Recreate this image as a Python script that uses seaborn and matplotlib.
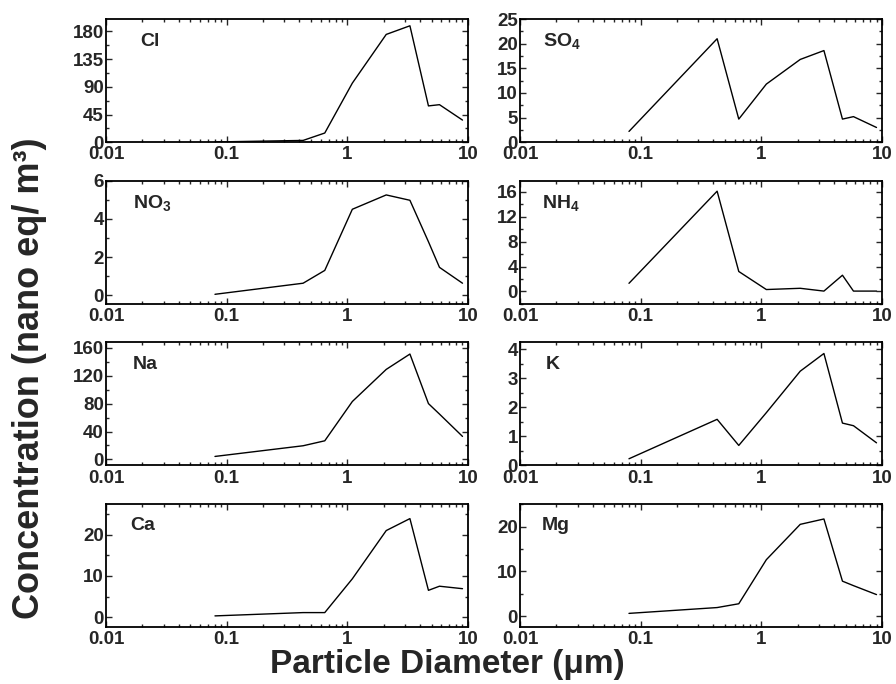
import matplotlib
matplotlib.use("Agg")
import matplotlib.pyplot as plt
import seaborn as sns
from matplotlib.ticker import AutoMinorLocator, LogLocator, NullFormatter

# particle size (um), impactor stages
diameter = [0.08, 0.43, 0.65, 1.1, 2.1, 3.3, 4.7, 5.8, 9.0]

cl = [0.5, 3, 15, 96, 175, 189, 59, 61, 36]
so4 = [2.2, 21.0, 4.7, 11.8, 16.8, 18.6, 4.7, 5.2, 3.0]
no3 = [0.05, 0.63, 1.3, 4.5, 5.25, 4.97, 2.8, 1.46, 0.63]
nh4 = [1.3, 16.1, 3.2, 0.3, 0.5, 0.05, 2.6, 0.05, 0.05]
na = [4.3, 19.6, 26.7, 83, 129, 151, 80, 65, 33]
k = [0.23, 1.59, 0.69, 1.82, 3.25, 3.86, 1.46, 1.37, 0.78]
ca = [0.3, 1.1, 1.1, 9.3, 21, 23.9, 6.5, 7.5, 6.9]
mg = [0.6, 1.9, 2.75, 12.6, 20.5, 21.7, 7.8, 6.8, 4.8]

names = ["Cl", r"$\mathbf{SO_4}$", r"$\mathbf{NO_3}$", r"$\mathbf{NH_4}$",
         "Na", "K", "Ca", "Mg"]
series = [cl, so4, no3, nh4, na, k, ca, mg]
yticks = [
    [0, 45, 90, 135, 180],
    [0, 5, 10, 15, 20, 25],
    [0, 2, 4, 6],
    [0, 4, 8, 12, 16],
    [0, 40, 80, 120, 160],
    [0, 1, 2, 3, 4],
    [0, 10, 20],
    [0, 10, 20],
]
ylims = [(0, 200), (0, 25), (-0.45, 6), (-2, 17.8),
         (-8.6, 168), (0, 4.25), (-2.4, 27.5), (-2.45, 25.1)]
label_x = [0.094, 0.064, 0.075, 0.06, 0.075, 0.07, 0.066, 0.06]

sns.set_style("ticks")
plt.rcParams["font.family"] = ["Liberation Sans", "DejaVu Sans"]
plt.rcParams["font.weight"] = "bold"
plt.rcParams["mathtext.fontset"] = "custom"
plt.rcParams["mathtext.rm"] = "Liberation Sans:bold"
plt.rcParams["mathtext.bf"] = "Liberation Sans:bold"

fig, axes = plt.subplots(4, 2, figsize=(8.96, 6.84), dpi=100)
fig.subplots_adjust(left=0.1183, right=0.9844, top=0.9722, bottom=0.0833,
                    wspace=0.1436, hspace=0.311)

for i, ax in enumerate(axes.flat):
    sns.lineplot(x=diameter, y=series[i], ax=ax, color="black", linewidth=1.0)
    ax.set_xscale("log")
    ax.set_xlim(0.01, 10)
    ax.set_ylim(*ylims[i])
    ax.set_xticks([0.01, 0.1, 1, 10])
    ax.set_xticklabels(["0.01", "0.1", "1", "10"])
    ax.xaxis.set_minor_locator(LogLocator(base=10, subs=range(2, 10)))
    ax.xaxis.set_minor_formatter(NullFormatter())
    ax.set_yticks(yticks[i])
    ax.yaxis.set_minor_locator(AutoMinorLocator(2))
    ax.tick_params(which="both", direction="in", top=True, right=True,
                   width=1.0, labelsize=13.5)
    ax.tick_params(axis="x", pad=3)
    ax.tick_params(axis="y", pad=1.5)
    ax.tick_params(which="major", length=4.5)
    ax.tick_params(which="minor", length=2.5)
    for lbl in ax.get_xticklabels() + ax.get_yticklabels():
        lbl.set_fontweight("bold")
    for sp in ax.spines.values():
        sp.set_linewidth(1.3)
        sp.set_color("black")
    ax.text(label_x[i], 0.82, names[i], transform=ax.transAxes,
            fontsize=14, fontweight="bold", va="center", ha="left")

fig.text(30 / 896, 1 - 378 / 684, "Concentration (nano eq/ m\u00b3)",
         rotation=90, ha="center", va="center", fontsize=26, fontweight="bold")
fig.text(447 / 896, 1 - 664 / 684, "Particle Diameter (\u03bcm)",
         ha="center", va="center", fontsize=24, fontweight="bold")

fig.savefig("out.png", dpi=100)
